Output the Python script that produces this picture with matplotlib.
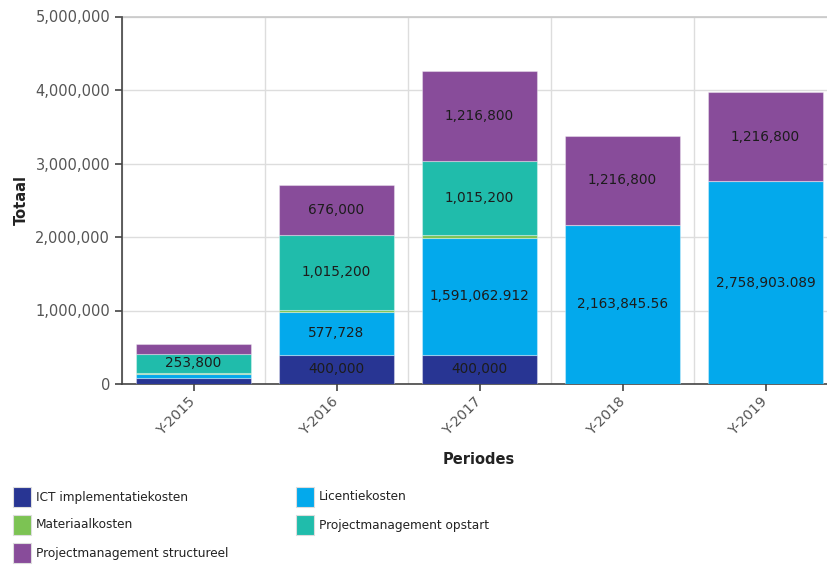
import matplotlib
matplotlib.use('Agg')
import matplotlib.pyplot as plt
from matplotlib.patches import Rectangle
from matplotlib.ticker import FuncFormatter, MultipleLocator
import numpy as np

periods = ['Y-2015', 'Y-2016', 'Y-2017', 'Y-2018', 'Y-2019']

series_names = [
    'ICT implementatiekosten',
    'Licentiekosten',
    'Materiaalkosten',
    'Projectmanagement opstart',
    'Projectmanagement structureel',
]
series_colors = ['#283593', '#03a9ec', '#7cc353', '#20bcab', '#884c9a']

ict = [80000, 400000, 400000, 0, 0]
licentie = [55000, 577728, 1591062.912, 2163845.56, 2758903.089]
materiaal = [20000, 35000, 30000, 0, 0]
pm_opstart = [253800, 1015200, 1015200, 0, 0]
pm_structureel = [130000, 676000, 1216800, 1216800, 1216800]

series_values = [ict, licentie, materiaal, pm_opstart, pm_structureel]

# segments below this size get no value label
label_min = 200000


def fmt_value(v):
    whole = int(v)
    frac = v - whole
    s = f'{whole:,}'
    if abs(frac) > 1e-9:
        s += ('%.3f' % frac).rstrip('0')[1:]
    return s


plt.rcParams['font.family'] = ['DejaVu Sans']

fig = plt.figure(figsize=(8.27, 5.67), dpi=100)
ax = fig.add_axes([122 / 827, 1 - 384 / 567, 715 / 827, 367.5 / 567])

x = np.arange(len(periods))
bottom = np.zeros(len(periods))
for name, vals, color in zip(series_names, series_values, series_colors):
    vals = np.array(vals, dtype=float)
    ax.bar(x, vals, width=0.8, bottom=bottom, color=color,
           edgecolor=(1, 1, 1, 0.35), linewidth=0.8, label=name, zorder=3)
    for xi, v, b in zip(x, vals, bottom):
        if v >= label_min:
            ax.text(xi, b + v / 2, fmt_value(v), ha='center', va='center',
                    fontsize=9.8, color='#1c1c1c', zorder=4)
    bottom += vals

ax.set_xlim(-0.5, len(periods) - 0.5)
ax.set_ylim(0, 5000000)
ax.yaxis.set_major_locator(MultipleLocator(1000000))
ax.yaxis.set_major_formatter(FuncFormatter(lambda v, p: f'{int(v):,}'))

ax.set_xticks(x)
ax.set_xticklabels(periods, rotation=45, ha='right', va='center',
                   rotation_mode='anchor')
ax.set_xticks(np.arange(len(periods) + 1) - 0.5, minor=True)

ax.tick_params(axis='both', which='major', labelcolor='#555555',
               color='#444444', length=5, width=1.2)
ax.tick_params(axis='x', which='major', labelsize=10.2, pad=6)
ax.tick_params(axis='y', which='major', labelsize=10.5)
ax.tick_params(axis='x', which='minor', length=0)

ax.grid(axis='y', which='major', color='#dddddd', linewidth=1, zorder=0)
ax.grid(axis='x', which='minor', color='#dddddd', linewidth=1, zorder=0)
ax.axhline(5000000, color='#c8c8c8', linewidth=1.2, zorder=1, clip_on=False)
ax.set_axisbelow(True)

for side in ['top', 'right']:
    ax.spines[side].set_visible(False)
for side in ['left', 'bottom']:
    ax.spines[side].set_color('#444444')
    ax.spines[side].set_linewidth(1.2)

ax.set_ylabel('Totaal', fontsize=10.5, fontweight='bold', color='#222222',
              labelpad=5)
fig.text(479 / 827, 1 - 459 / 567, 'Periodes', fontsize=10.5,
         fontweight='bold', color='#222222', ha='center', va='center')

# legend laid out in two columns, row by row
col_x = [13, 296]
row_y = [497, 525, 553]
for i, (name, color) in enumerate(zip(series_names, series_colors)):
    cx = col_x[i % 2]
    cy = row_y[i // 2]
    fig.patches.append(Rectangle((cx / 827, 1 - (cy + 10) / 567), 18 / 827,
                                 20 / 567, transform=fig.transFigure,
                                 facecolor=color, edgecolor='#dddddd',
                                 linewidth=0.8))
    fig.text((cx + 23) / 827, 1 - cy / 567, name, fontsize=8.7,
             color='#222222', ha='left', va='center')

fig.savefig('out.png', dpi=100)
